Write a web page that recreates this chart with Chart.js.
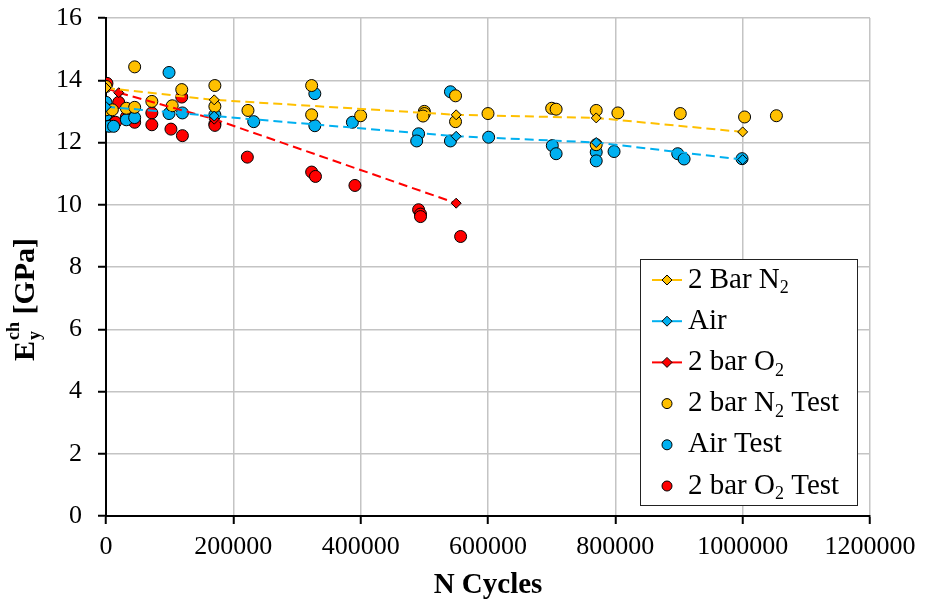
<!DOCTYPE html>
<html>
<head>
<meta charset="utf-8">
<script src="https://cdn.jsdelivr.net/npm/chart.js@4.4.0/dist/chart.umd.min.js"></script>
<style>
  html, body { margin: 0; padding: 0; background: #fff; }
</style>
</head>
<body>
<canvas id="myChart" width="925" height="607"></canvas>
<script>
// values
const xTicks = [0, 200000, 400000, 600000, 800000, 1000000, 1200000];
const yTicks = [0, 2, 4, 6, 8, 10, 12, 14, 16];

// fitted lines (diamonds)
const n2LineX = [0, 170000, 550000, 770000, 1000000];
const n2LineY = [13.75, 13.37, 12.89, 12.79, 12.34];
const airLineX = [0, 170000, 550000, 770000, 1000000];
const airLineY = [13.15, 12.85, 12.2, 12.0, 11.45];
const o2LineX = [0, 20000, 170000, 550000];
const o2LineY = [13.75, 13.6, 12.75, 10.05];

// test points (circles)
const n2TestX = [0, 0, 10000, 32000, 45000, 45000, 72000, 104000, 119000, 171000, 171000, 223000,
  323000, 323000, 400000, 500000, 500000, 498000, 549000, 549000, 600000, 700000, 707000,
  770000, 770000, 804000, 902000, 1003000, 1053000];
const n2TestY = [13.8, 13.05, 13.05, 13.1, 13.13, 14.43, 13.32, 13.18, 13.7, 13.83, 13.16, 13.03,
  13.83, 12.89, 12.86, 13.0, 12.93, 12.85, 13.5, 12.67, 12.93, 13.1, 13.07,
  13.03, 11.93, 12.95, 12.93, 12.82, 12.86];

const airTestX = [0, 0, 5000, 12000, 32000, 45000, 99000, 99000, 120000, 171000, 232000, 328000,
  328000, 387000, 491000, 488000, 541000, 541000, 601000, 701000, 707000, 770000, 770000,
  798000, 898000, 908000, 999000];
const airTestY = [13.29, 12.89, 12.52, 12.52, 12.73, 12.8, 14.25, 12.93, 12.95, 12.89, 12.67, 13.57,
  12.54, 12.65, 12.28, 12.05, 13.63, 12.05, 12.17, 11.9, 11.64, 11.69, 11.41,
  11.71, 11.64, 11.47, 11.48];

const o2TestX = [1500, 5000, 10000, 15000, 20000, 32000, 45000, 72000, 72000, 102000, 119000, 120000,
  171000, 171000, 222000, 323000, 329000, 391000, 491000, 494000, 494000, 557000];
const o2TestY = [13.9, 12.65, 12.65, 12.65, 13.29, 12.82, 12.65, 12.95, 12.57, 12.43, 13.46, 12.22,
  12.6, 12.55, 11.53, 11.05, 10.91, 10.62, 9.84, 9.7, 9.62, 8.98];

// legend text: [text, subscript, text]
const legendLabels = [
  ['2 Bar N', '2', ''],
  ['Air', '', ''],
  ['2 bar O', '2', ''],
  ['2 bar N', '2', ' Test'],
  ['Air Test', '', ''],
  ['2 bar O', '2', ' Test']
];

const yellow = '#FFC000';
const blue = '#00B0F0';
const red = '#FF0000';
const serif = '"Liberation Serif", "Times New Roman", serif';

function pts(xs, ys) {
  return xs.map((x, i) => ({ x: x, y: ys[i] }));
}

function lineSet(label, xs, ys, color) {
  return {
    label: label,
    data: pts(xs, ys),
    showLine: true,
    borderColor: color,
    borderWidth: 2,
    borderDash: [9, 5],
    pointStyle: 'rectRot',
    pointRadius: 5,
    pointBackgroundColor: color,
    pointBorderColor: '#000',
    pointBorderWidth: 1
  };
}

function testSet(label, xs, ys, color) {
  return {
    label: label,
    data: pts(xs, ys),
    showLine: false,
    pointStyle: 'circle',
    pointRadius: 6,
    pointBackgroundColor: color,
    pointBorderColor: '#000',
    pointBorderWidth: 1
  };
}

// draws "text + subscript + text" at x,y (middle baseline)
function drawRich(ctx, parts, x, y, size) {
  ctx.font = size + 'px ' + serif;
  ctx.fillText(parts[0], x, y);
  x += ctx.measureText(parts[0]).width;
  if (parts[1]) {
    ctx.font = Math.round(size * 0.62) + 'px ' + serif;
    ctx.fillText(parts[1], x, y + size * 0.3);
    x += ctx.measureText(parts[1]).width;
  }
  if (parts[2]) {
    ctx.font = size + 'px ' + serif;
    ctx.fillText(parts[2], x, y);
  }
}

const extras = {
  id: 'extras',
  afterDraw(chart) {
    const ctx = chart.ctx;
    const datasets = chart.data.datasets;

    // y axis title with sub/superscript
    ctx.save();
    ctx.translate(26, 300);
    ctx.rotate(-Math.PI / 2);
    ctx.fillStyle = '#000';
    ctx.textBaseline = 'middle';
    const big = 'bold 30px ' + serif, small = 'bold 18px ' + serif;
    ctx.font = big;
    const wE = ctx.measureText('E').width;
    const wG = ctx.measureText(' [GPa]').width;
    ctx.font = small;
    const wS = Math.max(ctx.measureText('y').width, ctx.measureText('ch').width);
    let tx = -(wE + wS + wG) / 2;
    ctx.font = big;
    ctx.fillText('E', tx, 0);
    tx += wE;
    ctx.font = small;
    ctx.fillText('y', tx + 1, 9);
    ctx.fillText('ch', tx + 1, -12);
    tx += wS + 1;
    ctx.font = big;
    ctx.fillText(' [GPa]', tx, 0);
    ctx.restore();

    // legend box
    ctx.save();
    const bx = 640, by = 259, bw = 217, bh = 246;
    ctx.fillStyle = '#fff';
    ctx.fillRect(bx, by, bw, bh);
    ctx.strokeStyle = '#222';
    ctx.lineWidth = 1;
    ctx.strokeRect(bx + 0.5, by + 0.5, bw, bh);
    ctx.textBaseline = 'middle';
    legendLabels.forEach((parts, i) => {
      const ds = datasets[i];
      const cy = 280 + i * 41.2;
      const mx = 667;
      if (ds.showLine) {
        ctx.strokeStyle = ds.borderColor;
        ctx.lineWidth = 2;
        ctx.beginPath();
        ctx.moveTo(652, cy);
        ctx.lineTo(682, cy);
        ctx.stroke();
        ctx.fillStyle = ds.pointBackgroundColor;
        ctx.strokeStyle = '#000';
        ctx.lineWidth = 1;
        ctx.beginPath();
        ctx.moveTo(mx, cy - 5);
        ctx.lineTo(mx + 5, cy);
        ctx.lineTo(mx, cy + 5);
        ctx.lineTo(mx - 5, cy);
        ctx.closePath();
        ctx.fill();
        ctx.stroke();
      } else {
        ctx.fillStyle = ds.pointBackgroundColor;
        ctx.strokeStyle = '#000';
        ctx.lineWidth = 1;
        ctx.beginPath();
        ctx.arc(mx, cy, 5, 0, Math.PI * 2);
        ctx.fill();
        ctx.stroke();
      }
      ctx.fillStyle = '#000';
      drawRich(ctx, parts, 688, cy, 29);
    });
    ctx.restore();
  }
};

var ctx = document.getElementById('myChart').getContext('2d');
var chart = new Chart(ctx, {
  type: 'scatter',
  data: {
    datasets: [
      lineSet('2 Bar N\u2082', n2LineX, n2LineY, yellow),
      lineSet('Air', airLineX, airLineY, blue),
      lineSet('2 bar O\u2082', o2LineX, o2LineY, red),
      testSet('2 bar N\u2082 Test', n2TestX, n2TestY, yellow),
      testSet('Air Test', airTestX, airTestY, blue),
      testSet('2 bar O\u2082 Test', o2TestX, o2TestY, red)
    ]
  },
  options: {
    responsive: false,
    animation: false,
    layout: { padding: { top: 18, right: 55, left: 0, bottom: 0 } },
    plugins: {
      legend: { display: false },
      tooltip: { enabled: false }
    },
    scales: {
      x: {
        type: 'linear',
        min: xTicks[0],
        max: xTicks[xTicks.length - 1],
        afterBuildTicks: (s) => { s.ticks = xTicks.map(v => ({ value: v })); },
        afterFit: (s) => { s.height = 91; },
        ticks: {
          callback: (v) => String(v),
          font: { family: serif, size: 26 },
          color: '#000',
          padding: 8,
          maxRotation: 0,
          autoSkip: false
        },
        grid: { color: '#c4c4c4', lineWidth: 1.5, tickLength: 8, tickColor: '#000', tickWidth: 2 },
        border: { color: '#000', width: 2 },
        title: {
          display: true,
          text: 'N Cycles',
          font: { family: serif, size: 29, weight: 'bold' },
          color: '#000',
          padding: { top: 0, bottom: 4 }
        }
      },
      y: {
        min: yTicks[0],
        max: yTicks[yTicks.length - 1],
        afterBuildTicks: (s) => { s.ticks = yTicks.map(v => ({ value: v })); },
        afterFit: (s) => { s.width = 106; },
        ticks: {
          font: { family: serif, size: 26, lineHeight: 0.1 },
          color: '#000',
          padding: 16
        },
        grid: { color: '#c4c4c4', lineWidth: 1.5, tickLength: 8, tickColor: '#000', tickWidth: 2 },
        border: { color: '#000', width: 2 }
      }
    }
  },
  plugins: [extras]
});
</script>
</body>
</html>
